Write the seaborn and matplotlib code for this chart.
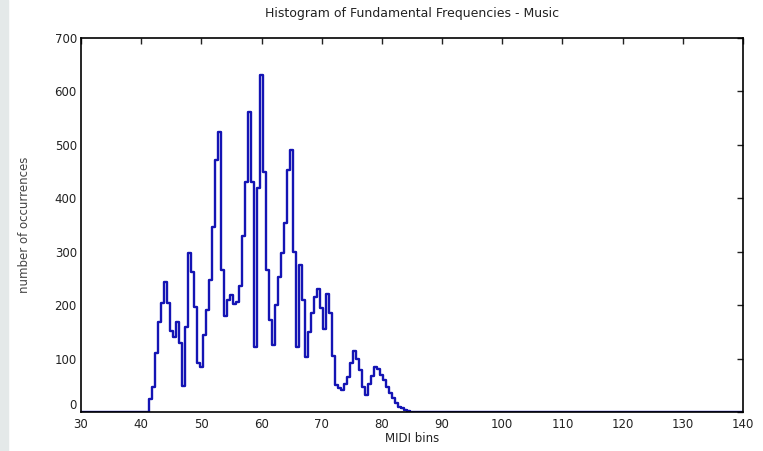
import numpy as np
import pandas as pd
import matplotlib
matplotlib.use("Agg")
import matplotlib.pyplot as plt
import seaborn as sns

# ===== DADOS =====
# centros dos bins MIDI (meio semitom) onde há ocorrências
midi_centros = [
    41.0, 41.5, 42.0, 42.5, 43.0, 43.5, 44.0, 44.5, 45.0, 45.5,
    46.0, 46.5, 47.0, 47.5, 48.0, 48.5, 49.0, 49.5, 50.0, 50.5,
    51.0, 51.5, 52.0, 52.5, 53.0, 53.5, 54.0, 54.5, 55.0, 55.5,
    56.0, 56.5, 57.0, 57.5, 58.0, 58.5, 59.0, 59.5, 60.0, 60.5,
    61.0, 61.5, 62.0, 62.5, 63.0, 63.5, 64.0, 64.5, 65.0, 65.5,
    66.0, 66.5, 67.0, 67.5, 68.0, 68.5, 69.0, 69.5, 70.0, 70.5,
    71.0, 71.5, 72.0, 72.5, 73.0, 73.5, 74.0, 74.5, 75.0, 75.5,
    76.0, 76.5, 77.0, 77.5, 78.0, 78.5, 79.0, 79.5, 80.0, 80.5,
    81.0, 81.5, 82.0, 82.5, 83.0, 83.5, 84.0, 84.5, 85.0,
]
ocorrencias = [
    0, 24, 47, 110, 169, 204, 244, 204, 152, 140,
    168, 129, 48, 160, 297, 262, 197, 92, 85, 144,
    191, 247, 347, 472, 524, 265, 180, 210, 219, 203,
    205, 235, 330, 430, 562, 430, 122, 420, 630, 450,
    265, 172, 125, 200, 253, 297, 353, 453, 490, 300,
    122, 275, 210, 103, 150, 185, 215, 230, 195, 155,
    220, 185, 104, 51, 45, 41, 53, 66, 92, 114,
    100, 79, 47, 32, 53, 68, 84, 80, 69, 60,
    47, 35, 26, 16, 9, 7, 4, 1, 0,
]

# bordas do eixo (contagem zero fora da faixa)
x_min, x_max = 30, 140

# ===== MONTAGEM =====
x = [x_min] + midi_centros + [x_max]
y = [0] + ocorrencias + [0]
df = pd.DataFrame({"midi": x, "n": y})

sns.set_theme(style="white")
plt.rcParams['font.family'] = ['DejaVu Sans']

fig = plt.figure(figsize=(7.63, 4.51), dpi=100)
fig.patches.append(plt.Rectangle((0, 0), 8 / 763, 1, transform=fig.transFigure,
                                 color="#e4e9e9", zorder=0))
ax = fig.add_axes([81 / 763, 1 - 412 / 451, 662 / 763, 374 / 451])

sns.lineplot(data=df, x="midi", y="n", ax=ax, color="#1414b4",
             linewidth=1.7, drawstyle="steps-mid", estimator=None, sort=False)

ax.set_xlim(x_min, x_max)
ax.set_ylim(0, 700)
ax.set_xticks(range(30, 141, 10))
ax.set_yticks(range(0, 701, 100))
ax.tick_params(direction="in", length=4, width=1, top=True, right=True,
               labelsize=8.5, colors="#222222")
ax.tick_params(axis="x", pad=4)
ax.tick_params(axis="y", pad=3)
# o "0" fica um pouco acima, como no original
ax.get_yticklabels()[0].set_verticalalignment("bottom")
for s in ax.spines.values():
    s.set_color("black")
    s.set_linewidth(1.2)

ax.set_title("Histogram of Fundamental Frequencies - Music", fontsize=9, pad=15,
             color="#222222")
ax.set_xlabel("MIDI bins", fontsize=8.5, labelpad=1, color="#222222")
ax.set_ylabel("number of occurrences", fontsize=8.5, labelpad=17, color="#444444")

fig.savefig("out.png", dpi=100)
